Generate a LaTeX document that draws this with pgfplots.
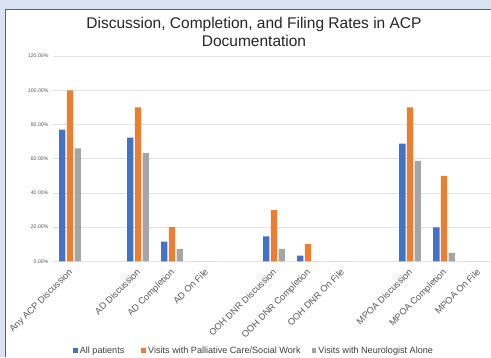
\documentclass[border=0pt]{standalone}
\usepackage{fontspec}
\setmainfont{Liberation Sans}
\usepackage{pgfplots}
\pgfplotsset{compat=1.18}

\definecolor{panelbg}{HTML}{DAE3F3}
\definecolor{panelborder}{HTML}{5B6372}
\definecolor{seriesA}{HTML}{4472C4}
\definecolor{seriesB}{HTML}{ED7D31}
\definecolor{seriesC}{HTML}{A5A5A5}
\definecolor{gridgray}{HTML}{E3E3E3}
\definecolor{ticktext}{HTML}{595959}

\begin{document}
\begin{tikzpicture}[x=1pt,y=1pt]
  \useasboundingbox (0,0) rectangle (491,357);
  % outer panel and white chart area
  \fill[panelbg] (0,0) rectangle (491,357);
  \fill[white] (5.5,0) rectangle (491,347.5);
  \draw[panelborder, line width=1.2pt] (5.5,0) -- (5.5,347.5) -- (491,347.5);

  \node[align=center, font=\fontsize{15.5}{18}\selectfont, text=black!85, anchor=north]
    at (254,343.5) {Discussion, Completion, and Filing Rates in ACP\\Documentation};

  \begin{axis}[
    at={(53pt,95.7pt)}, anchor=south west,
    scale only axis, width=438pt, height=205.2pt,
    xmin=-0.5, xmax=12.38, ymin=0, ymax=120,
    ybar=1.4pt, bar width=6.3pt,
    axis line style={draw=none},
    major tick length=0pt,
    ymajorgrids, grid style={gridgray, line width=0.8pt},
    ytick={0,20,40,60,80,100,120},
    yticklabels={0.00\%,20.00\%,40.00\%,60.00\%,80.00\%,100.00\%,120.00\%},
    yticklabel style={font=\fontsize{5.2}{6}\selectfont, text=ticktext, xshift=-1pt},
    xtick={0,1,2,3,4,5,6,7,8,9,10,11,12},
    xticklabels={Any ACP Discussion,,AD Discussion,AD Completion,AD On File,,OOH DNR Discussion,OOH DNR Completion,OOH DNR On File,,MPOA Discussion,MPOA Completion,MPOA On File},
    xticklabel style={font=\fontsize{9.2}{10}\selectfont, text=ticktext, rotate=45, anchor=north east, inner sep=1pt, xshift=-5pt, yshift=-2.3pt},
    legend style={at={(0.459,-0.4347)}, anchor=center, draw=none, fill=none,
      font=\fontsize{9.1}{10}\selectfont, text=black!75,
      legend columns=3,
      /tikz/column 2/.style={column sep=15pt},
      /tikz/column 4/.style={column sep=9pt}},
    legend image code/.code={\fill[#1] (0pt,-2.4pt) rectangle (4.8pt,2.4pt);},
    legend cell align=left,
  ]
    \addplot[fill=seriesA, draw=none] coordinates {
      (0,77.0) (2,72.3) (3,11.5) (4,0) (6,14.6) (7,3.3) (8,0) (10,68.8) (11,19.9) (12,0)};
    \addplot[fill=seriesB, draw=none] coordinates {
      (0,100) (2,90.0) (3,20.0) (4,0) (6,30.0) (7,10.0) (8,0) (10,90.0) (11,50.0) (12,0)};
    \addplot[fill=seriesC, draw=none] coordinates {
      (0,66.1) (2,63.3) (3,7.2) (4,0) (6,7.2) (7,0) (8,0) (10,58.7) (11,4.9) (12,0)};
    \legend{All patients, Visits with Palliative Care/Social Work, Visits with Neurologist Alone}
  \end{axis}
\end{tikzpicture}
\end{document}
